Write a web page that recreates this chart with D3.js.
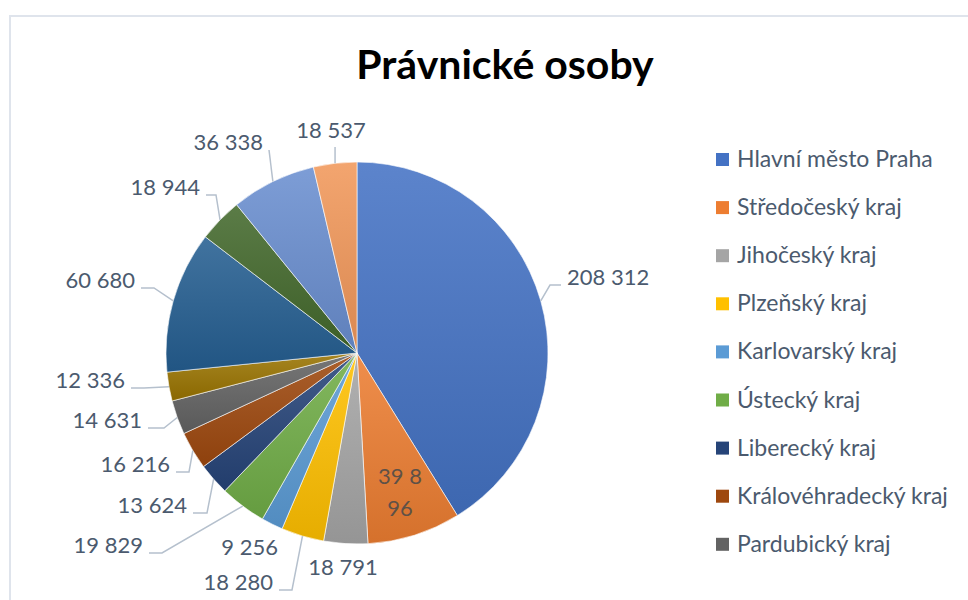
<!DOCTYPE html>
<html>
<head>
<meta charset="utf-8">
<script src="https://cdn.jsdelivr.net/npm/d3@7"></script>
<style>
  body { margin: 0; background: #fff; }
  text { font-family: Lato, "Open Sans", sans-serif; }
</style>
</head>
<body>
<div id="chart"></div>
<script>
(function() {

    // data
    const regions = ["Hlavní město Praha", "Středočeský kraj", "Jihočeský kraj", "Plzeňský kraj",
                     "Karlovarský kraj", "Ústecký kraj", "Liberecký kraj", "Královéhradecký kraj",
                     "Pardubický kraj", "Kraj Vysočina", "Jihomoravský kraj", "Olomoucký kraj",
                     "Moravskoslezský kraj", "Zlínský kraj"]
    const values = [208312, 39896, 18791, 18280, 9256, 19829, 13624, 16216, 14631, 12336, 60680, 18944, 36338, 18537]
    const colors = ["#4472C4", "#ED7D31", "#A5A5A5", "#FFC000", "#5B9BD5", "#70AD47", "#264478",
                    "#9E480E", "#636363", "#997300", "#255E91", "#43682B", "#698ED0", "#F1975A"]

    // label placement relative to pie centre: [x, y, anchor, leader, elbow]
    const labelLayout = [
        [210, -68, "start", "h", 11],
        [0, 0, "middle", "inside", 0],
        [-14, 222, "middle", "none", 0],
        [-84, 237, "end", "h", 13],
        [-79, 202, "end", "none", 0],
        [-214, 200, "end", "h", 13],
        [-170, 160, "end", "h", 14],
        [-187, 119, "end", "h", 13],
        [-215, 75, "end", "h", 16],
        [-232, 35, "end", "h", 13],
        [-222, -65, "end", "h", 13],
        [-157, -158, "end", "h", 10],
        [-94, -203, "end", "h", 0],
        [-26, -215, "middle", "v", 0]
    ]

    const legendCount = 9   // Excel cut the legend off after nine entries

    const width = 968, height = 600
    const cx = 357, cy = 353, radius = 191
    const textColor = "#4b5a6e"
    const fmt = v => d3.format(",")(v).replace(/,/g, " ")

    let svg = d3.select("#chart").append("svg")
                .attr("width", width)
                .attr("height", height)

    // chart frame
    svg.append("rect")
        .attr("x", 10).attr("y", 16)
        .attr("width", width).attr("height", height)
        .attr("fill", "none")
        .attr("stroke", "#dfe4ec")
        .attr("stroke-width", 2)

    svg.append("text")
        .attr("x", 505).attr("y", 79)
        .attr("text-anchor", "middle")
        .attr("font-size", 41)
        .attr("font-weight", "bold")
        .attr("fill", "#000")
        .text("Právnické osoby")

    // gradients per slice
    let defs = svg.append("defs")
    colors.forEach((c, i) => {
        let g = defs.append("linearGradient")
            .attr("id", "grad" + i)
            .attr("x1", 0).attr("y1", 0).attr("x2", 0).attr("y2", 1)
        g.append("stop").attr("offset", "0%").attr("stop-color", d3.interpolateRgb(c, "#fff")(0.13))
        g.append("stop").attr("offset", "100%").attr("stop-color", d3.interpolateRgb(c, "#000")(0.1))
    })

    let pie = d3.pie().sort(null).value(d => d)
    let arcs = pie(values)
    let arc = d3.arc().innerRadius(0).outerRadius(radius)
    let edgeArc = d3.arc().innerRadius(radius).outerRadius(radius)
    let innerArc = d3.arc().innerRadius(radius * 0.75).outerRadius(radius * 0.75)

    let g = svg.append("g").attr("transform", "translate(" + cx + "," + cy + ")")

    g.selectAll("path.slice")
        .data(arcs)
        .enter().append("path")
        .attr("class", "slice")
        .attr("d", arc)
        .attr("fill", (d, i) => "url(#grad" + i + ")")
        .attr("stroke", "#fff")
        .attr("stroke-width", 0.6)

    // leader lines
    arcs.forEach((d, i) => {
        let [lx, ly, anchor, type, elbow] = labelLayout[i]
        let edge = edgeArc.centroid(d)
        let pts = null
        if (type === "h") {
            let dir = anchor === "end" ? 1 : -1
            let endX = lx + dir * 6
            pts = [edge, [endX + dir * elbow, ly], [endX, ly]]
        } else if (type === "v") {
            pts = [edge, [edge[0], ly + 9]]
        }
        if (pts) {
            g.append("polyline")
                .attr("points", pts.map(p => p.join(",")).join(" "))
                .attr("fill", "none")
                .attr("stroke", "#b5c0cd")
                .attr("stroke-width", 1.5)
        }
    })

    // data labels
    arcs.forEach((d, i) => {
        let [lx, ly, anchor, type] = labelLayout[i]
        if (type === "inside") {
            let c = innerArc.centroid(d)
            let s = fmt(d.data)
            let t = g.append("text")
                .attr("text-anchor", "middle")
                .attr("font-size", 22)
                .attr("fill", "#5e5147")
            t.append("tspan").attr("x", c[0]).attr("y", c[1] - 6).text(s.slice(0, 4))
            t.append("tspan").attr("x", c[0]).attr("y", c[1] + 26).text(s.slice(4))
        } else {
            g.append("text")
                .attr("x", lx).attr("y", ly)
                .attr("text-anchor", anchor)
                .attr("font-size", 22)
                .attr("fill", textColor)
                .text(fmt(d.data))
        }
    })

    // legend
    let legend = svg.append("g").attr("transform", "translate(716,153)")
    let items = legend.selectAll("g")
        .data(regions.slice(0, legendCount))
        .enter().append("g")
        .attr("transform", (d, i) => "translate(0," + i * 48.1 + ")")

    items.append("rect")
        .attr("width", 13).attr("height", 13)
        .attr("fill", (d, i) => colors[i])

    items.append("text")
        .attr("x", 21).attr("y", 14)
        .attr("font-size", 23)
        .attr("fill", textColor)
        .text(d => d)

})();
</script>
</body>
</html>
